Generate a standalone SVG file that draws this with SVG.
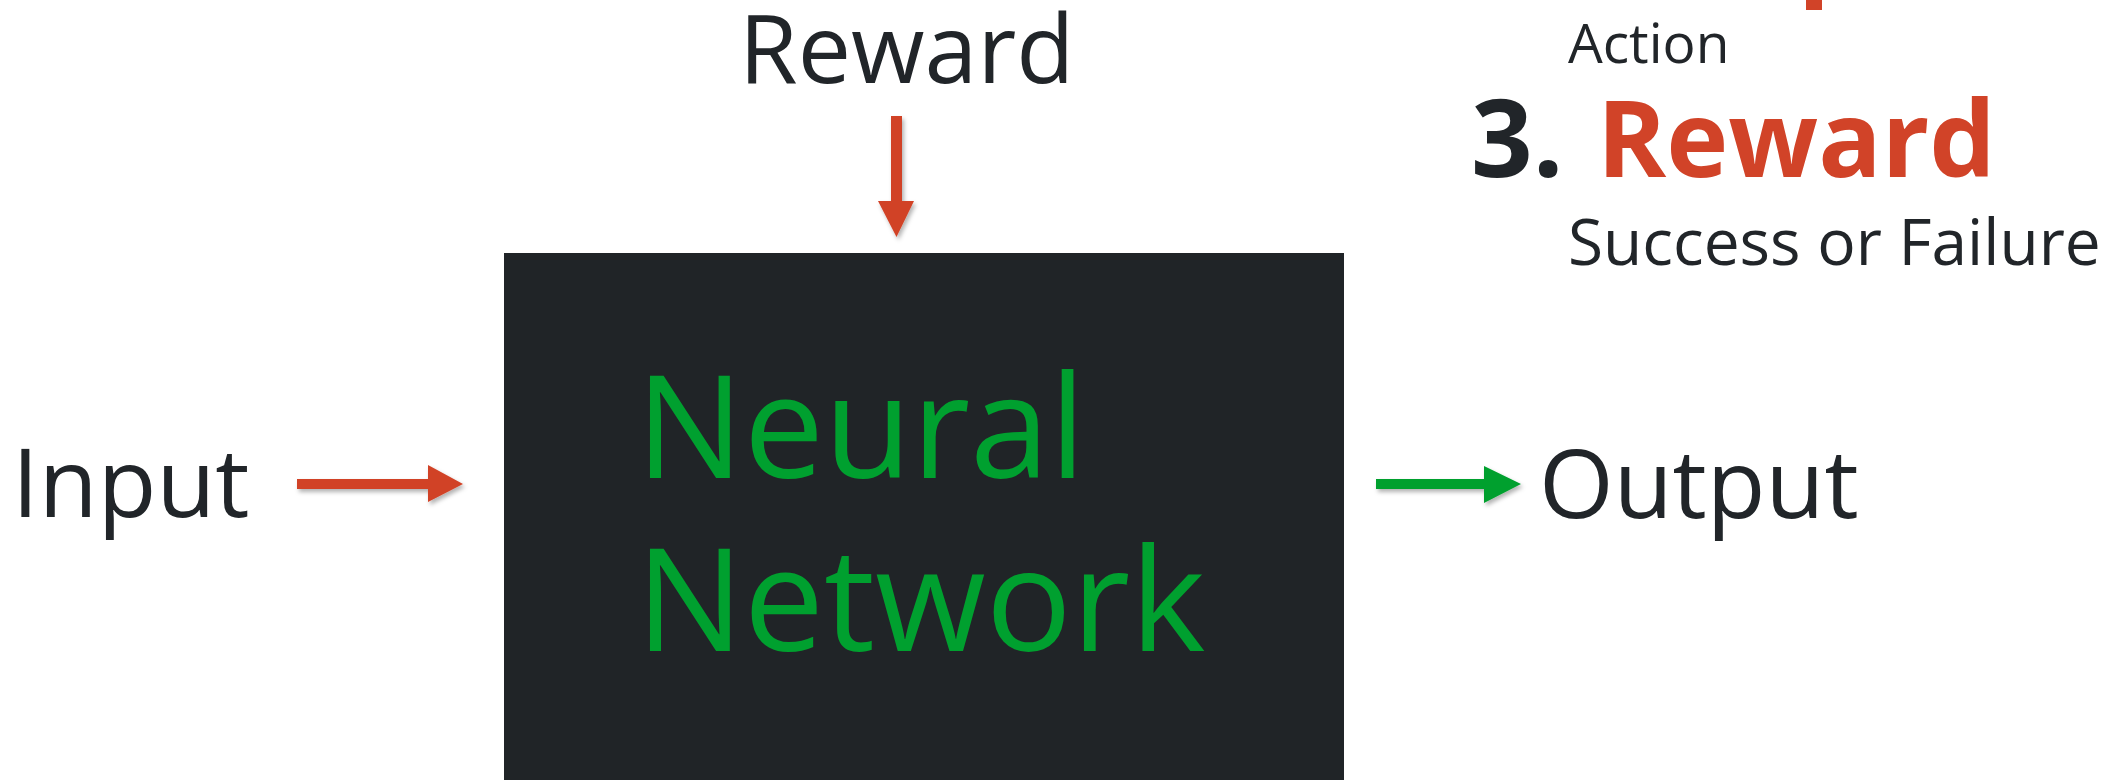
<svg xmlns="http://www.w3.org/2000/svg" width="2115" height="780" viewBox="0 0 2115 780">
  <defs>
    <style>
      .lbl { font-family: "Open Sans", "Noto Sans", "DejaVu Sans", sans-serif; fill: #212529; }
      .nn { font-family: "Open Sans", "Noto Sans", "DejaVu Sans", sans-serif; fill: #00a02f; font-size: 143px; }
      .bold { font-family: "Open Sans", "Noto Sans", "DejaVu Sans", sans-serif; font-weight: 700; }
      .red { fill: #d14328; }
      .green { fill: #00a02f; }
      .dark { fill: #212529; }
    </style>
    <filter id="shadow" x="-20%" y="-20%" width="140%" height="160%">
      <feDropShadow dx="2" dy="3" stdDeviation="2" flood-color="#000" flood-opacity="0.3"/>
    </filter>
  </defs>
  <rect width="2115" height="780" fill="#ffffff"/>

  <g id="node-neural-network">
    <rect x="504" y="253" width="840" height="540" fill="#202427"/>
    <text class="nn" x="636" y="478">Neural</text>
    <text class="nn" x="636" y="651">Network</text>
  </g>

  <g id="node-reward">
    <text class="lbl" x="739" y="83" font-size="95">Reward</text>
  </g>

  <g id="node-input">
    <text class="lbl" x="12" y="517" font-size="96">Input</text>
  </g>

  <g id="node-output">
    <text class="lbl" x="1539" y="518" font-size="96">Output</text>
  </g>

  <g id="node-legend">
    <rect class="red" x="1806" y="0" width="16" height="10"/>
    <text class="lbl" x="1568" y="63" font-size="55">Action</text>
    <text class="bold dark" x="1471" y="177" font-size="108">3.</text>
    <text class="bold red" x="1597" y="177" font-size="105">Reward</text>
    <text class="lbl" x="1568" y="265" font-size="64">Success or Failure</text>
  </g>

  <g id="connectors" filter="url(#shadow)">
    <polygon class="red" points="891,116 902,116 902,201 914,201 896.5,237 878,201 891,201"/>
    <polygon class="red" points="297,479 428,479 428,465 463,484 428,502 428,489 297,489"/>
    <polygon class="green" points="1376,479 1484,479 1484,466 1521,484 1484,503 1484,489 1376,489"/>
  </g>
</svg>
